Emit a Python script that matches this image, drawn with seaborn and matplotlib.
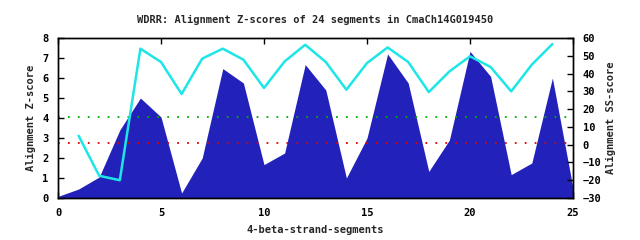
import matplotlib
matplotlib.use("Agg")
import matplotlib.pyplot as plt
import seaborn as sns
import pandas as pd

# Data
segments = list(range(0, 26))
z_scores = [0.08, 0.45, 1.05, 3.4, 5.0, 4.05, 0.25, 2.0, 6.47, 5.75, 1.67, 2.25,
            6.67, 5.4, 1.0, 3.0, 7.2, 5.75, 1.33, 2.9, 7.33, 6.08, 1.17, 1.75, 6.0, 0.5]
ss_positions = list(range(1, 25))
ss_scores = [5, -17.5, -20, 54, 46.5, 28.5, 48.4, 54, 47.8, 31.9, 46.8, 56.2,
             46.5, 30.9, 45.9, 54.7, 46.5, 29.6, 41.2, 49.7, 43.7, 30, 45, 56.6]
thresholds = [4.05, 2.75]
threshold_colors = ["#00B000", "#E00000"]
x_ticks = [0, 5, 10, 15, 20, 25]
z_ticks = list(range(0, 9))
ss_ticks = list(range(-30, 61, 10))

title = "WDRR: Alignment Z-scores of 24 segments in CmaCh14G019450"

sns.set_theme(style="white")
plt.rcParams["font.family"] = ["DejaVu Sans Mono", "DejaVu Sans"]
plt.rcParams["font.weight"] = "bold"

fig = plt.figure(figsize=(6.4, 2.4), dpi=100)
ax = fig.add_axes([58/640, 1-198/240, (573-58)/640, 160/240])

dz = pd.DataFrame({"seg": segments, "z": z_scores})
ax.fill_between(dz["seg"], 0, dz["z"], color="#2222BB", linewidth=0, zorder=1)

for t, c in zip(thresholds, threshold_colors):
    ax.axhline(t, color=c, linestyle=(0, (1, 4.5)), linewidth=1.3, zorder=2)

ax.set_xlim(0, 25)
ax.set_ylim(0, 8)
ax.set_xticks(x_ticks)
ax.set_yticks(z_ticks)
ax.tick_params(direction="in", length=4, width=1, labelsize=7.5, top=True,
               bottom=True, left=True, right=False, colors="black", pad=7)
for s in ax.spines.values():
    s.set_color("black")
    s.set_linewidth(1)
ax.set_xlabel("4-beta-strand-segments", fontsize=7.5, fontweight="bold", labelpad=5)
ax.set_ylabel("Alignment Z-score", fontsize=7.5, fontweight="bold", labelpad=4)
ax.set_title(title, fontsize=7.5, fontweight="bold", pad=11)

ax2 = ax.twinx()
dss = pd.DataFrame({"seg": ss_positions, "ss": ss_scores})
sns.lineplot(data=dss, x="seg", y="ss", ax=ax2, color="#1EE6E6", linewidth=1.8, zorder=3)
ax2.set_ylim(-30, 60)
ax2.set_yticks(ss_ticks)
ax2.set_xlim(0, 25)
ax2.tick_params(direction="in", length=4, width=1, labelsize=7.5, right=True,
                colors="black", pad=7)
ax2.set_ylabel("Alignment SS-score", fontsize=7.5, fontweight="bold", labelpad=3)
ax2.set_xlabel("")
for s in ax2.spines.values():
    s.set_color("black")
    s.set_linewidth(1)

fig.savefig("out.png", dpi=100)
